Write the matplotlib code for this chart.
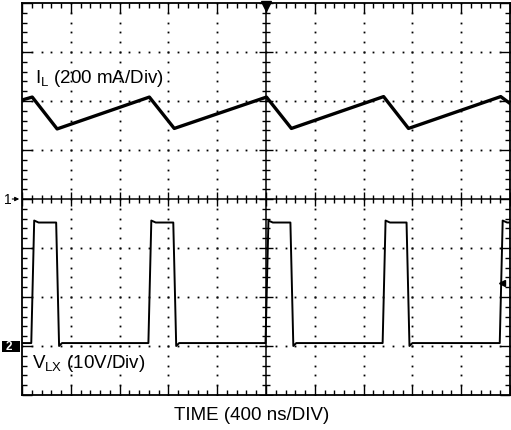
import numpy as np
import matplotlib
matplotlib.use("Agg")
import matplotlib.pyplot as plt
from matplotlib.patches import Rectangle

plt.rcParams['font.family'] = ['Liberation Sans', 'DejaVu Sans']
plt.rcParams['mathtext.fontset'] = 'custom'
plt.rcParams['mathtext.rm'] = 'Liberation Sans'

# inductor current trace (divisions): corner times and levels
il_t = [0.0, 0.21, 0.72, 2.61, 3.12, 5.01, 5.52, 7.41, 7.92, 9.81, 10.0]
il_v = [2.02, 2.08, 1.43, 2.08, 1.44, 2.08, 1.44, 2.09, 1.44, 2.09, 1.95]

# switch node trace (divisions): pulse edges and levels
rise_t = [0.19, 2.59, 4.99, 7.39, 9.79]
fall_t = [0.70, 3.10, 5.50, 7.88]
vlx_hi = -0.48
vlx_lo = -2.94
edge = 0.06

# build the LX polyline from the edges
vlx_t = [0.0]
vlx_v = [vlx_lo]
for i, r in enumerate(rise_t):
    vlx_t += [r, r + edge, r + 0.15]
    vlx_v += [vlx_lo, vlx_hi + 0.04, vlx_hi]
    if i < len(fall_t):
        f = fall_t[i]
        vlx_t += [f, f + edge, f + 0.12]
        vlx_v += [vlx_hi, vlx_lo - 0.06, vlx_lo]
vlx_t.append(10.0)
vlx_v.append(vlx_hi)

W, H = 511, 431
fig = plt.figure(figsize=(W / 100, H / 100), dpi=100)
ax = fig.add_axes([22 / W, 1 - 396 / H, 488 / W, 392 / H])
ax.set_xlim(0, 10)
ax.set_ylim(-4, 4)

# dotted graticule
steps = np.arange(0, 10.01, 0.2)
vsteps = np.arange(-4, 4.01, 0.2)
for gx in range(1, 10):
    if gx == 5:
        continue
    ax.plot(np.full(len(vsteps), gx), vsteps, ls='none', marker='s', ms=1.3, color='k', mew=0)
for gy in range(-3, 4):
    if gy == 0:
        continue
    ax.plot(steps, np.full(len(steps), gy), ls='none', marker='s', ms=1.3, color='k', mew=0)

# centre cross with tick marks
ax.axhline(0, color='k', lw=1.1)
ax.axvline(5, color='k', lw=1.1)
minor_x = [x for x in steps if abs(x - round(x)) > 1e-6]
minor_y = [y for y in vsteps if abs(y - round(y)) > 1e-6]
ax.plot(minor_x, np.zeros(len(minor_x)), ls='none', marker='|', ms=6, mew=1, color='k')
ax.plot(range(11), np.zeros(11), ls='none', marker='|', ms=10, mew=1, color='k')
ax.plot(np.full(len(minor_y), 5), minor_y, ls='none', marker='_', ms=6, mew=1, color='k')
ax.plot(np.full(9, 5), range(-4, 5), ls='none', marker='_', ms=10, mew=1, color='k')

# border ticks
ax.set_xticks(range(11))
ax.set_yticks(range(-4, 5))
ax.set_xticks(minor_x, minor=True)
ax.set_yticks(minor_y, minor=True)
ax.tick_params(which='both', direction='in', top=True, right=True,
               labelbottom=False, labelleft=False, width=1, color='k')
ax.tick_params(which='major', length=7)
ax.tick_params(which='minor', length=3.5)
for s in ax.spines.values():
    s.set_linewidth(1.3)

# traces
ax.plot(il_t, il_v, color='k', lw=2.4, solid_joinstyle='round')
ax.plot(vlx_t, vlx_v, color='k', lw=1.4, solid_joinstyle='round')

# scope markers: trigger position, trigger level, channel grounds
ax.plot([5], [3.93], marker='v', ms=7, color='k', clip_on=False)
ax.plot([9.84], [-1.71], marker='<', ms=5, color='k', clip_on=False)
ax.annotate('', xy=(0, 0), xytext=(-9, 0), textcoords='offset points',
            arrowprops=dict(arrowstyle='-|>', color='k', lw=0.8, mutation_scale=6),
            annotation_clip=False)
fig.text(8 / W, 1 - 200 / H, '1', fontsize=10, ha='center', va='center')
fig.patches.append(Rectangle((2 / W, 1 - 353 / H), 18 / W, 11 / H,
                             transform=fig.transFigure, fc='black', ec='none'))
fig.text(9 / W, 1 - 347.5 / H, '2', fontsize=8.5, ha='center', va='center', color='white',
         fontweight='bold')
ax.annotate('', xy=(0, -3), xytext=(-8, 0), textcoords='offset points',
            arrowprops=dict(arrowstyle='-|>', color='white', lw=0.8, mutation_scale=6),
            annotation_clip=False)

# channel labels
ax.text(0.26, 2.39, r'$\mathregular{I_L}$ (200 mA/Div)', fontsize=13.5, va='baseline')
ax.text(0.2, -3.43, r'$\mathregular{V_{LX}}$ (10V/Div)', fontsize=13.5, va='baseline')
fig.text(252 / W, 1 - 420 / H, 'TIME (400 ns/DIV)', fontsize=13.5, ha='center', va='baseline')

fig.savefig('out.png', dpi=100)
